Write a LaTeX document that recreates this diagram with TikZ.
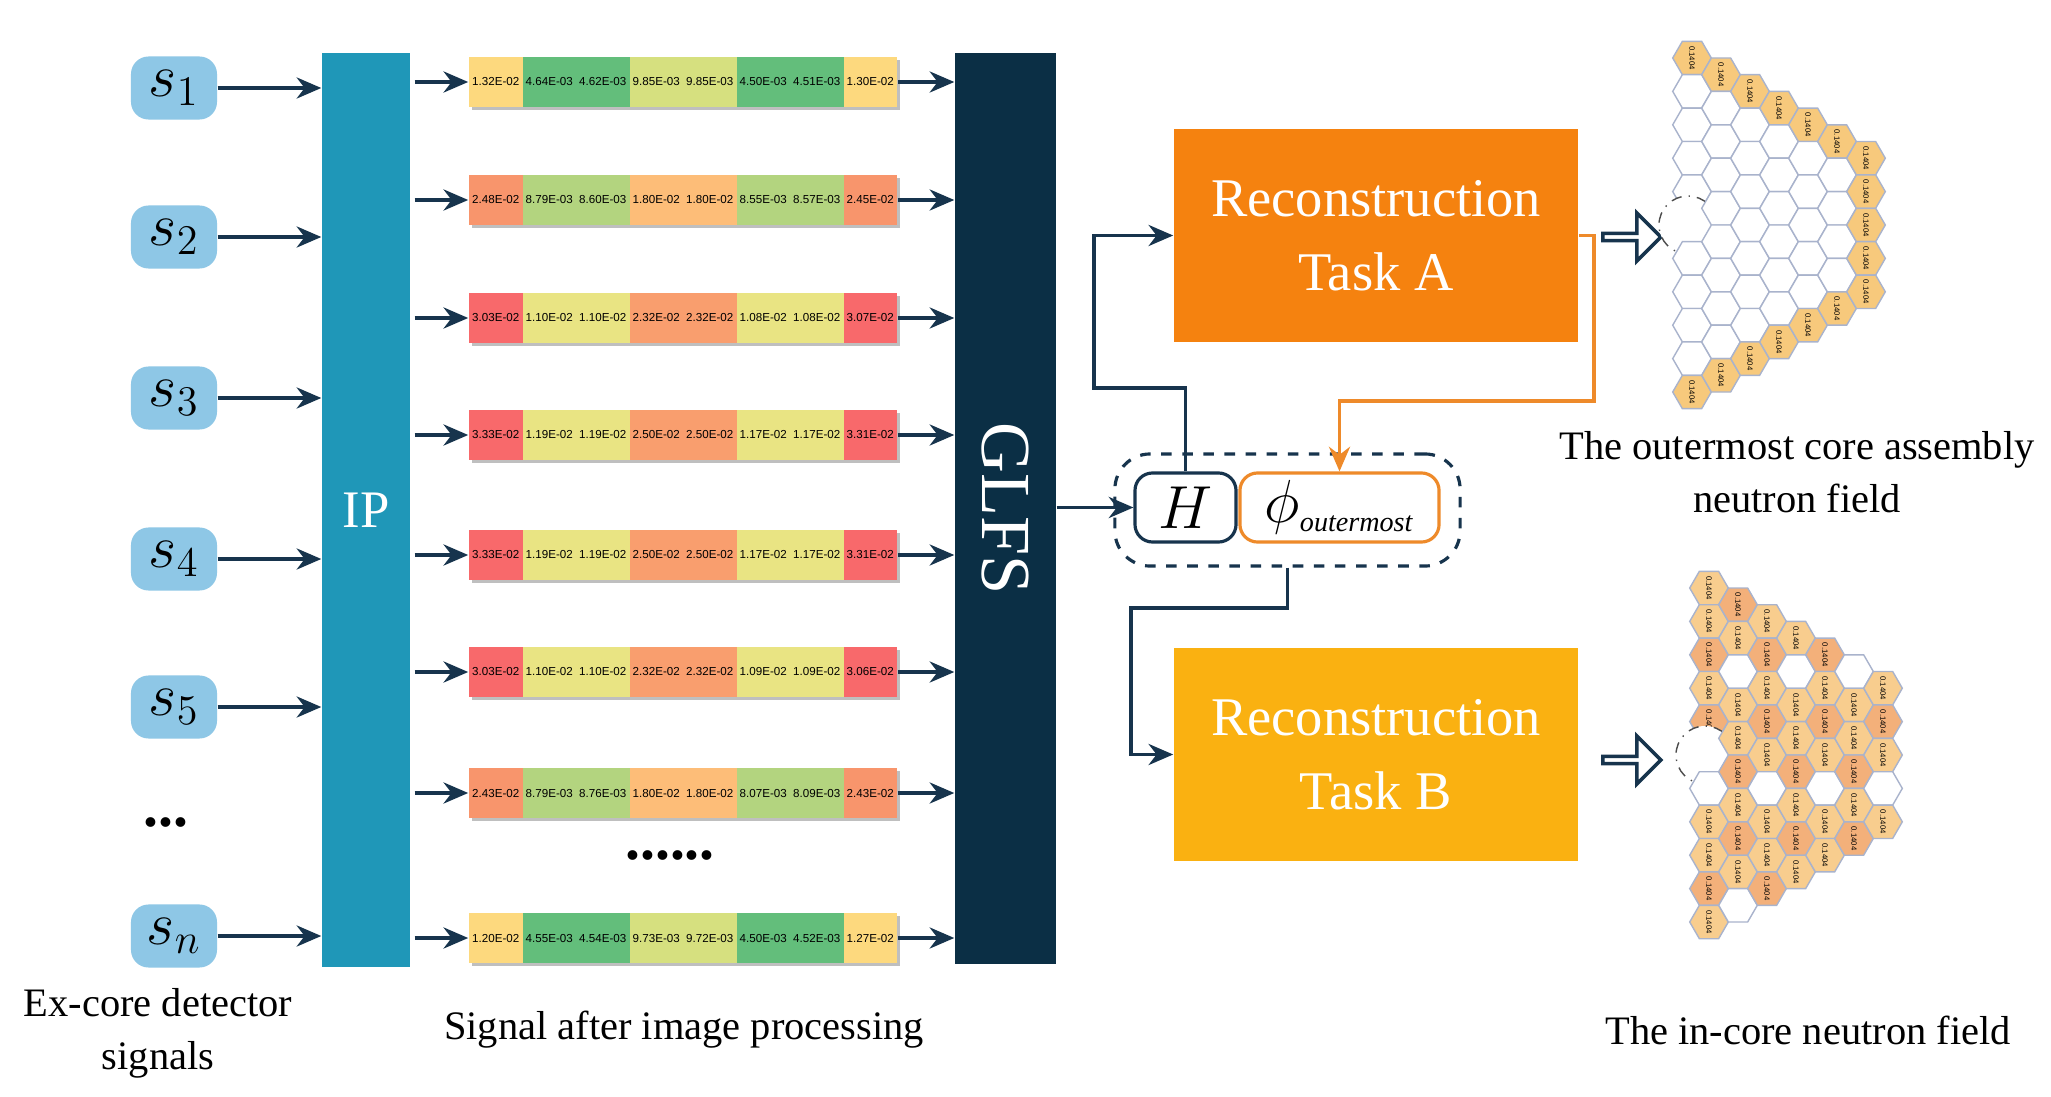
\documentclass[tikz,border=0pt]{standalone}
\usepackage{fontspec}
\setmainfont{Liberation Serif}
\newfontfamily\valfont{Liberation Sans}
\usetikzlibrary{shapes.geometric,shapes.arrows,arrows.meta,calc}
\definecolor{navy}{HTML}{17344D}
\definecolor{sblue}{HTML}{8EC7E6}
\definecolor{ipc}{HTML}{1F97B8}
\definecolor{glfs}{HTML}{0B2F45}
\definecolor{taskA}{HTML}{F5820F}
\definecolor{taskB}{HTML}{FAB111}
\definecolor{oline}{HTML}{EE8A2A}
\definecolor{cY}{HTML}{FDD97E}
\definecolor{cG}{HTML}{63BE7B}
\definecolor{cYG}{HTML}{D6E07F}
\definecolor{cO}{HTML}{F8956C}
\definecolor{cLG}{HTML}{B3D47F}
\definecolor{cPO}{HTML}{FDBD78}
\definecolor{cR}{HTML}{F8696B}
\definecolor{cYL}{HTML}{E9E483}
\definecolor{cO2}{HTML}{F99E6E}
\definecolor{hexA}{HTML}{F7C97C}
\definecolor{hexB}{HTML}{F3B07A}
\definecolor{hexL}{HTML}{F8CD8E}
\definecolor{hexE}{HTML}{A9B3CC}
\tikzset{
 arr/.style={-{Stealth[length=7pt,width=6pt]},line width=1pt,draw=navy},
 sbox/.style={fill=sblue,rounded corners=5pt,minimum width=0.86cm,minimum height=0.63cm,inner sep=0,font=\fontsize{17}{20}\selectfont},
 task/.style={minimum width=4.04cm,minimum height=2.13cm,inner sep=0,text=white,align=center,font=\fontsize{15.5}{21}\selectfont},
 captxt/.style={font=\fontsize{11.5}{15}\selectfont,align=center},
 val/.style={font=\valfont\fontsize{3.3}{4}\selectfont,inner sep=0},
 hexln/.style={draw=hexE,line width=0.4pt},
 htxt/.style={rotate=-90,font=\valfont\fontsize{2.2}{3}\selectfont,inner sep=0},
}
\newcommand\sigbar[6]{%
 \fill[black!25] (472,#1-22) rectangle (900,#1+28);
 \fill[#3] (469,#1-25) rectangle (522.5,#1+25);
 \fill[#4] (522.5,#1-25) rectangle (629.5,#1+25);
 \fill[#5] (629.5,#1-25) rectangle (736.5,#1+25);
 \fill[#4] (736.5,#1-25) rectangle (843.5,#1+25);
 \fill[#3] (843.5,#1-25) rectangle (897,#1+25);
 \node[minimum width=4.28cm,minimum height=0.5cm,inner sep=0] (#2) at (683,#1) {};
 \foreach \v [count=\i] in {#6} {\node[val] (#2-v\i) at ({469+53.5*\i-26.75},#1) {\v};}
}
\newcommand\hexmap[4]{%
 \foreach \c in {0,...,6}{
  \pgfmathtruncatemacro\n{11-\c}
  \foreach \r in {1,...,\n}{
   \pgfmathsetmacro\hx{#2+\c*29}
   \pgfmathsetmacro\hy{#3+(\r-(\n+1)/2)*33.4}
   \pgfmathtruncatemacro\kk{mod(\c*5+\r*3,7)}
   \pgfmathtruncatemacro\edg{(\r==1)||(\r==\n)||(\c==6)}
   \pgfmathtruncatemacro\hol{(\c==0)&&(\r==6)}
   \ifnum\hol=1
    \node[circle,draw=black!70,dash dot,minimum size=0.58cm,inner sep=0,fill=white] (#1-hole) at (\hx-4,\hy) {};
   \else
    \ifnum#4=0
      \ifnum\edg=1 \def\myhcol{hexA}\def\mytx{1}\else\def\myhcol{white}\def\mytx{0}\fi
    \else
      \ifnum\kk=0 \def\myhcol{white}\def\mytx{0}\else
        \ifnum\kk<3 \def\myhcol{hexB}\else\def\myhcol{hexL}\fi\def\mytx{1}\fi
    \fi
    \filldraw[hexln,fill=\myhcol] (\hx+19.3,\hy) -- (\hx+9.65,\hy+16.7) -- (\hx-9.65,\hy+16.7) -- (\hx-19.3,\hy) -- (\hx-9.65,\hy-16.7) -- (\hx+9.65,\hy-16.7) -- cycle;
    \ifnum\mytx=1 \node[htxt] (#1-t-\c-\r) at (\hx,\hy) {0.1404}; \fi
   \fi
  }}
}
\begin{document}
\begin{tikzpicture}[x=0.01cm,y=-0.01cm]
\useasboundingbox (0,0) rectangle (2051,1097);
\fill[white] (0,0) rectangle (2051,1097);
% detector signals
\node[sbox] (s1) at (174,88) {$s_1$};
\node[sbox] (s2) at (174,237) {$s_2$};
\node[sbox] (s3) at (174,398) {$s_3$};
\node[sbox] (s4) at (174,559) {$s_4$};
\node[sbox] (s5) at (174,707) {$s_5$};
\node[font=\fontsize{17}{20}\selectfont\bfseries] (sd) at (166,822) {...};
\node[sbox] (sn) at (174,936) {$s_n$};
% IP and GLFS
\node[fill=ipc,minimum width=0.88cm,minimum height=9.14cm,inner sep=0,text=white,font=\fontsize{15}{18}\selectfont] (IP) at (366,510) {IP};
\node[fill=glfs,minimum width=1.01cm,minimum height=9.11cm,inner sep=0] (GLFS) at (1005.5,508.5) {};
\node[rotate=-90,text=white,font=\fontsize{20}{24}\selectfont] (GL) at (1005.5,508.5) {GLFS};
\foreach \s in {s1,s2,s3,s4,s5,sn} {\draw[arr] (\s.east) -- (IP.west |- \s.east);}
% bars
\sigbar{82}{b1}{cY}{cG}{cYG}{1.32E-02,4.64E-03,4.62E-03,9.85E-03,9.85E-03,4.50E-03,4.51E-03,1.30E-02}
\sigbar{200}{b2}{cO}{cLG}{cPO}{2.48E-02,8.79E-03,8.60E-03,1.80E-02,1.80E-02,8.55E-03,8.57E-03,2.45E-02}
\sigbar{318}{b3}{cR}{cYL}{cO2}{3.03E-02,1.10E-02,1.10E-02,2.32E-02,2.32E-02,1.08E-02,1.08E-02,3.07E-02}
\sigbar{435}{b4}{cR}{cYL}{cO2}{3.33E-02,1.19E-02,1.19E-02,2.50E-02,2.50E-02,1.17E-02,1.17E-02,3.31E-02}
\sigbar{555}{b5}{cR}{cYL}{cO2}{3.33E-02,1.19E-02,1.19E-02,2.50E-02,2.50E-02,1.17E-02,1.17E-02,3.31E-02}
\sigbar{672}{b6}{cR}{cYL}{cO2}{3.03E-02,1.10E-02,1.10E-02,2.32E-02,2.32E-02,1.09E-02,1.09E-02,3.06E-02}
\sigbar{793}{b7}{cO}{cLG}{cPO}{2.43E-02,8.79E-03,8.76E-03,1.80E-02,1.80E-02,8.07E-03,8.09E-03,2.43E-02}
\sigbar{938}{b8}{cY}{cG}{cYG}{1.20E-02,4.55E-03,4.54E-03,9.73E-03,9.72E-03,4.50E-03,4.52E-03,1.27E-02}
\node[font=\fontsize{17}{20}\selectfont\bfseries] (bd) at (670,855) {......};
\foreach \b in {b1,b2,b3,b4,b5,b6,b7,b8} {
 \draw[arr] (IP.east |- \b.west) ++(4,0) -- (\b.west);
 \draw[arr] (\b.east) -- (GLFS.west |- \b.east);
}
% H and phi
\node[draw=navy,dashed,rounded corners=10pt,line width=0.9pt,minimum width=3.45cm,minimum height=1.12cm] (grp) at (1287.5,510) {};
\node[draw=navy,rounded corners=5pt,line width=0.9pt,fill=white,minimum width=1.01cm,minimum height=0.69cm,inner sep=0,font=\fontsize{17}{20}\selectfont] (H) at (1185.5,507.5) {$H$};
\node[draw=oline,rounded corners=5pt,line width=0.9pt,fill=white,minimum width=1.99cm,minimum height=0.69cm,inner sep=0,font=\fontsize{16}{20}\selectfont] (phi) at (1339.5,507.5) {$\phi_{\scriptscriptstyle\mathit{outermost}}$};
\draw[arr] (GLFS.east |- H.west) -- (H.west);
% tasks
\node[task,fill=taskA] (TA) at (1376,235.5) {Reconstruction\\Task A};
\node[task,fill=taskB] (TB) at (1376,754.5) {Reconstruction\\Task B};
\coordinate (ta1) at (1094,388);
\draw[arr] (H.north) |- (ta1) |- (TA.west);
\coordinate (oa) at (1594,401);
\draw[arr,draw=oline] (TA.east) -| (oa) -| (phi.north);
\coordinate (tb1) at (1131,608);
\draw[arr] (grp.south) |- (tb1) |- (TB.west);
% hollow arrows
\node[single arrow,draw=navy,fill=white,line width=1pt,minimum height=0.58cm,minimum width=0.48cm,single arrow head extend=0.1cm,inner sep=0] (ha) at (1630,237) {};
\node[single arrow,draw=navy,fill=white,line width=1pt,minimum height=0.58cm,minimum width=0.48cm,single arrow head extend=0.1cm,inner sep=0] (hb) at (1630,760) {};
% hex maps
\hexmap{top}{1692}{225}{0}
\hexmap{bot}{1709}{755}{1}
% captions
\node[captxt] (c1) at (158,1033) {Ex-core detector\\signals};
\node[captxt] (c2) at (684,1030) {Signal after image processing};
\node[captxt] (c3) at (1797,472) {The outermost core assembly\\neutron field};
\node[captxt] (c4) at (1808,1030) {The in-core neutron field};
\end{tikzpicture}
\end{document}
